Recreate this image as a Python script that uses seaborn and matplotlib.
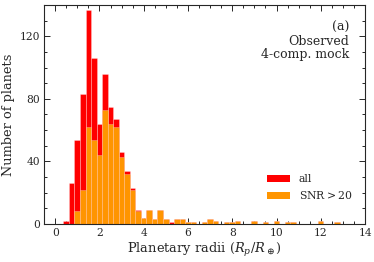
import numpy as np
import pandas as pd
import matplotlib
matplotlib.use("Agg")
import matplotlib.pyplot as plt
from matplotlib.patches import Patch
from matplotlib.ticker import MultipleLocator
import seaborn as sns

# histogram counts per 0.25 R_earth bin, first bin starts at 0.37
bin_start = 0.37
bin_width = 0.25
counts_all = [2, 26, 54, 83, 137, 106, 64, 96, 75, 67, 46, 34, 23, 9, 4, 9, 3, 9, 3, 1,
              3, 3, 1, 1, 0, 1, 3, 2, 0, 1, 1, 2, 0, 0, 2, 0, 1, 0, 2, 0,
              1, 1, 0, 0, 0, 0, 2, 0, 0, 1, 0]
counts_snr = [0, 0, 8, 22, 62, 54, 44, 73, 64, 62, 43, 32, 22, 8, 4, 9, 3, 9, 3, 0,
              3, 3, 1, 1, 0, 1, 3, 2, 0, 1, 1, 2, 0, 0, 2, 0, 1, 0, 2, 0,
              1, 1, 0, 0, 0, 0, 2, 0, 0, 1, 0]
labels = ["all", "SNR$>$20"]
colors = ["#ff0000", "#ff9500"]

edges = bin_start + bin_width * np.arange(len(counts_all) + 1)
centers = 0.5 * (edges[:-1] + edges[1:])

sns.set_style("ticks")
plt.rcParams["font.family"] = ["DejaVu Serif"]
plt.rcParams["mathtext.fontset"] = "dejavuserif"

fig = plt.figure(figsize=(3.74, 2.62), dpi=100)
ax = fig.add_axes([0.118, 0.145, 0.858, 0.836])

for counts, color in zip([counts_all, counts_snr], colors):
    df = pd.DataFrame({"radius": centers, "n": counts})
    sns.histplot(data=df, x="radius", weights="n", bins=edges.tolist(), color=color, alpha=1,
                 edgecolor=(1, 1, 1, 0.45), linewidth=0.4, ax=ax)

ax.set_xlim(-0.5, 14)
ax.set_ylim(0, 140)
ax.xaxis.set_major_locator(MultipleLocator(2))
ax.xaxis.set_minor_locator(MultipleLocator(0.5))
ax.yaxis.set_major_locator(MultipleLocator(40))
ax.yaxis.set_minor_locator(MultipleLocator(10))
ax.tick_params(which="both", direction="in", top=True, right=True, labelsize=7.7, width=0.7)
ax.tick_params(which="major", length=4, pad=3)
ax.tick_params(which="minor", length=2)
for sp in ax.spines.values():
    sp.set_linewidth(0.8)

ax.set_xlabel(r"Planetary radii ($R_p/R_\oplus$)", fontsize=9.4, labelpad=2)
ax.set_ylabel("Number of planets", fontsize=9.3, labelpad=3)

ax.text(0.95, 0.925, "(a)\nObserved\n4-comp. mock", transform=ax.transAxes,
        ha="right", va="top", fontsize=9, linespacing=1.05)

handles = [Patch(facecolor=c, edgecolor="none") for c in colors]
ax.legend(handles, labels, loc="lower right", bbox_to_anchor=(0.99, 0.06), frameon=False,
          fontsize=7.8, handlelength=2.1, handleheight=0.65, labelspacing=0.45,
          handletextpad=0.8)

fig.savefig("out.png", dpi=100)
